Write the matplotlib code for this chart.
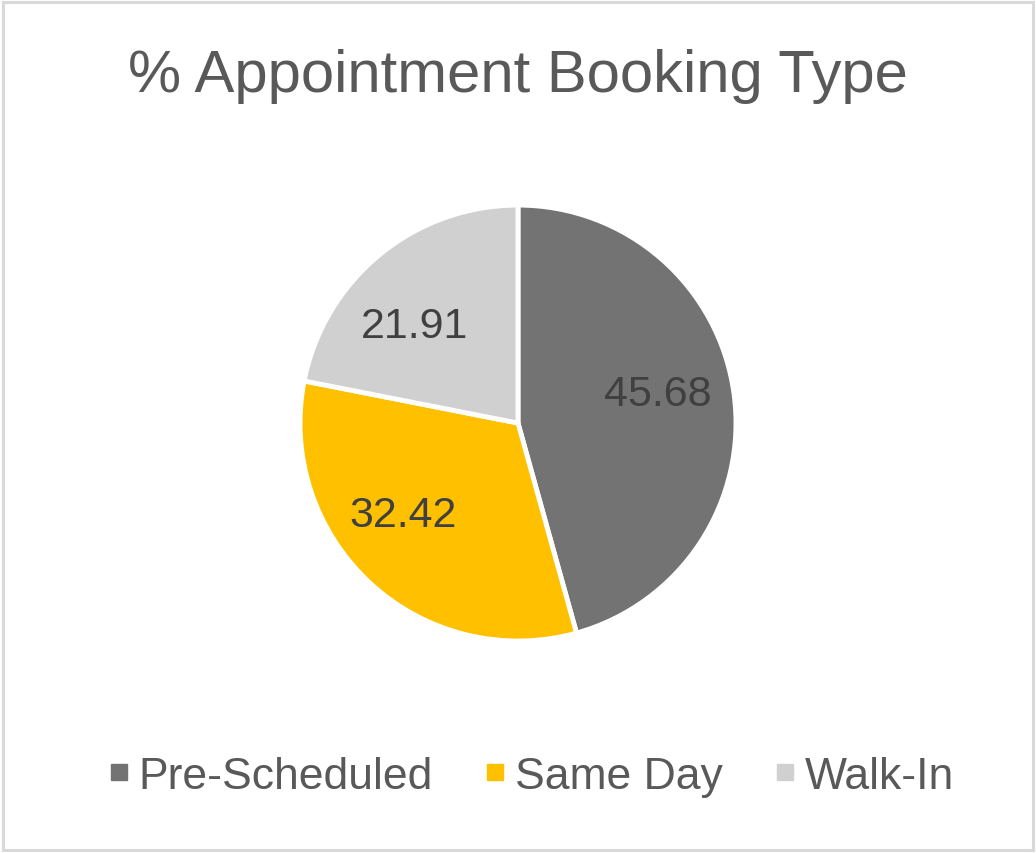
import matplotlib
matplotlib.use('Agg')
import matplotlib.pyplot as plt
from matplotlib.patches import Rectangle
from matplotlib.lines import Line2D
import numpy as np

# dati
categories = ['Pre-Scheduled', 'Same Day', 'Walk-In']
values = [45.68, 32.42, 21.91]
colors = ['#737373', '#FFC000', '#D0D0D0']

text_font = ['Liberation Sans', 'DejaVu Sans']

fig = plt.figure(figsize=(10.36, 8.54), dpi=100)
fig.patch.set_facecolor('white')

# bordo grigio chiaro attorno al grafico
fig.add_artist(Rectangle((0.003, 0.004), 0.994, 0.992, transform=fig.transFigure,
                         fill=False, edgecolor='#D9D9D9', linewidth=2.2))

fig.text(0.5, 0.91, '% Appointment Booking Type', ha='center', va='center',
         fontsize=43, color='#595959', family=text_font)

ax = fig.add_axes([0.2896, 0.2482, 0.4208, 0.5105])
wedges, texts = ax.pie(values, colors=colors, startangle=90, counterclock=False,
                       radius=1.0, wedgeprops=dict(edgecolor='white', linewidth=3.5))
for w in wedges:
    w.set_clip_on(False)
ax.set_xlim(-1.0, 1.0)
ax.set_ylim(-1.0, 1.0)
ax.set_aspect('equal')
ax.axis('off')

# etichette dati (posizione "best fit" come in Excel)
label_r = [0.655, 0.675, 0.65]
label_shift = [4, -8.5, 7.6]  # gradi rispetto al centro fetta
for w, v, r, s in zip(wedges, values, label_r, label_shift):
    ang = np.deg2rad((w.theta1 + w.theta2) / 2 + s)
    ax.text(r * np.cos(ang), r * np.sin(ang), f'{v:.2f}',
            ha='center', va='center', fontsize=31, color='#404040', family=text_font)

handles = [Line2D([0], [0], marker='s', linestyle='', markersize=11.5,
                  markerfacecolor=c, markeredgecolor=c) for c in colors]
leg = fig.legend(handles, categories, loc='center', bbox_to_anchor=(0.5126, 0.09),
                 ncol=3, frameon=False, handletextpad=0.2, columnspacing=1.15,
                 handlelength=0.5, prop={'family': text_font, 'size': 32})
for t in leg.get_texts():
    t.set_color('#595959')

fig.savefig('out.png', dpi=100, facecolor='white')
